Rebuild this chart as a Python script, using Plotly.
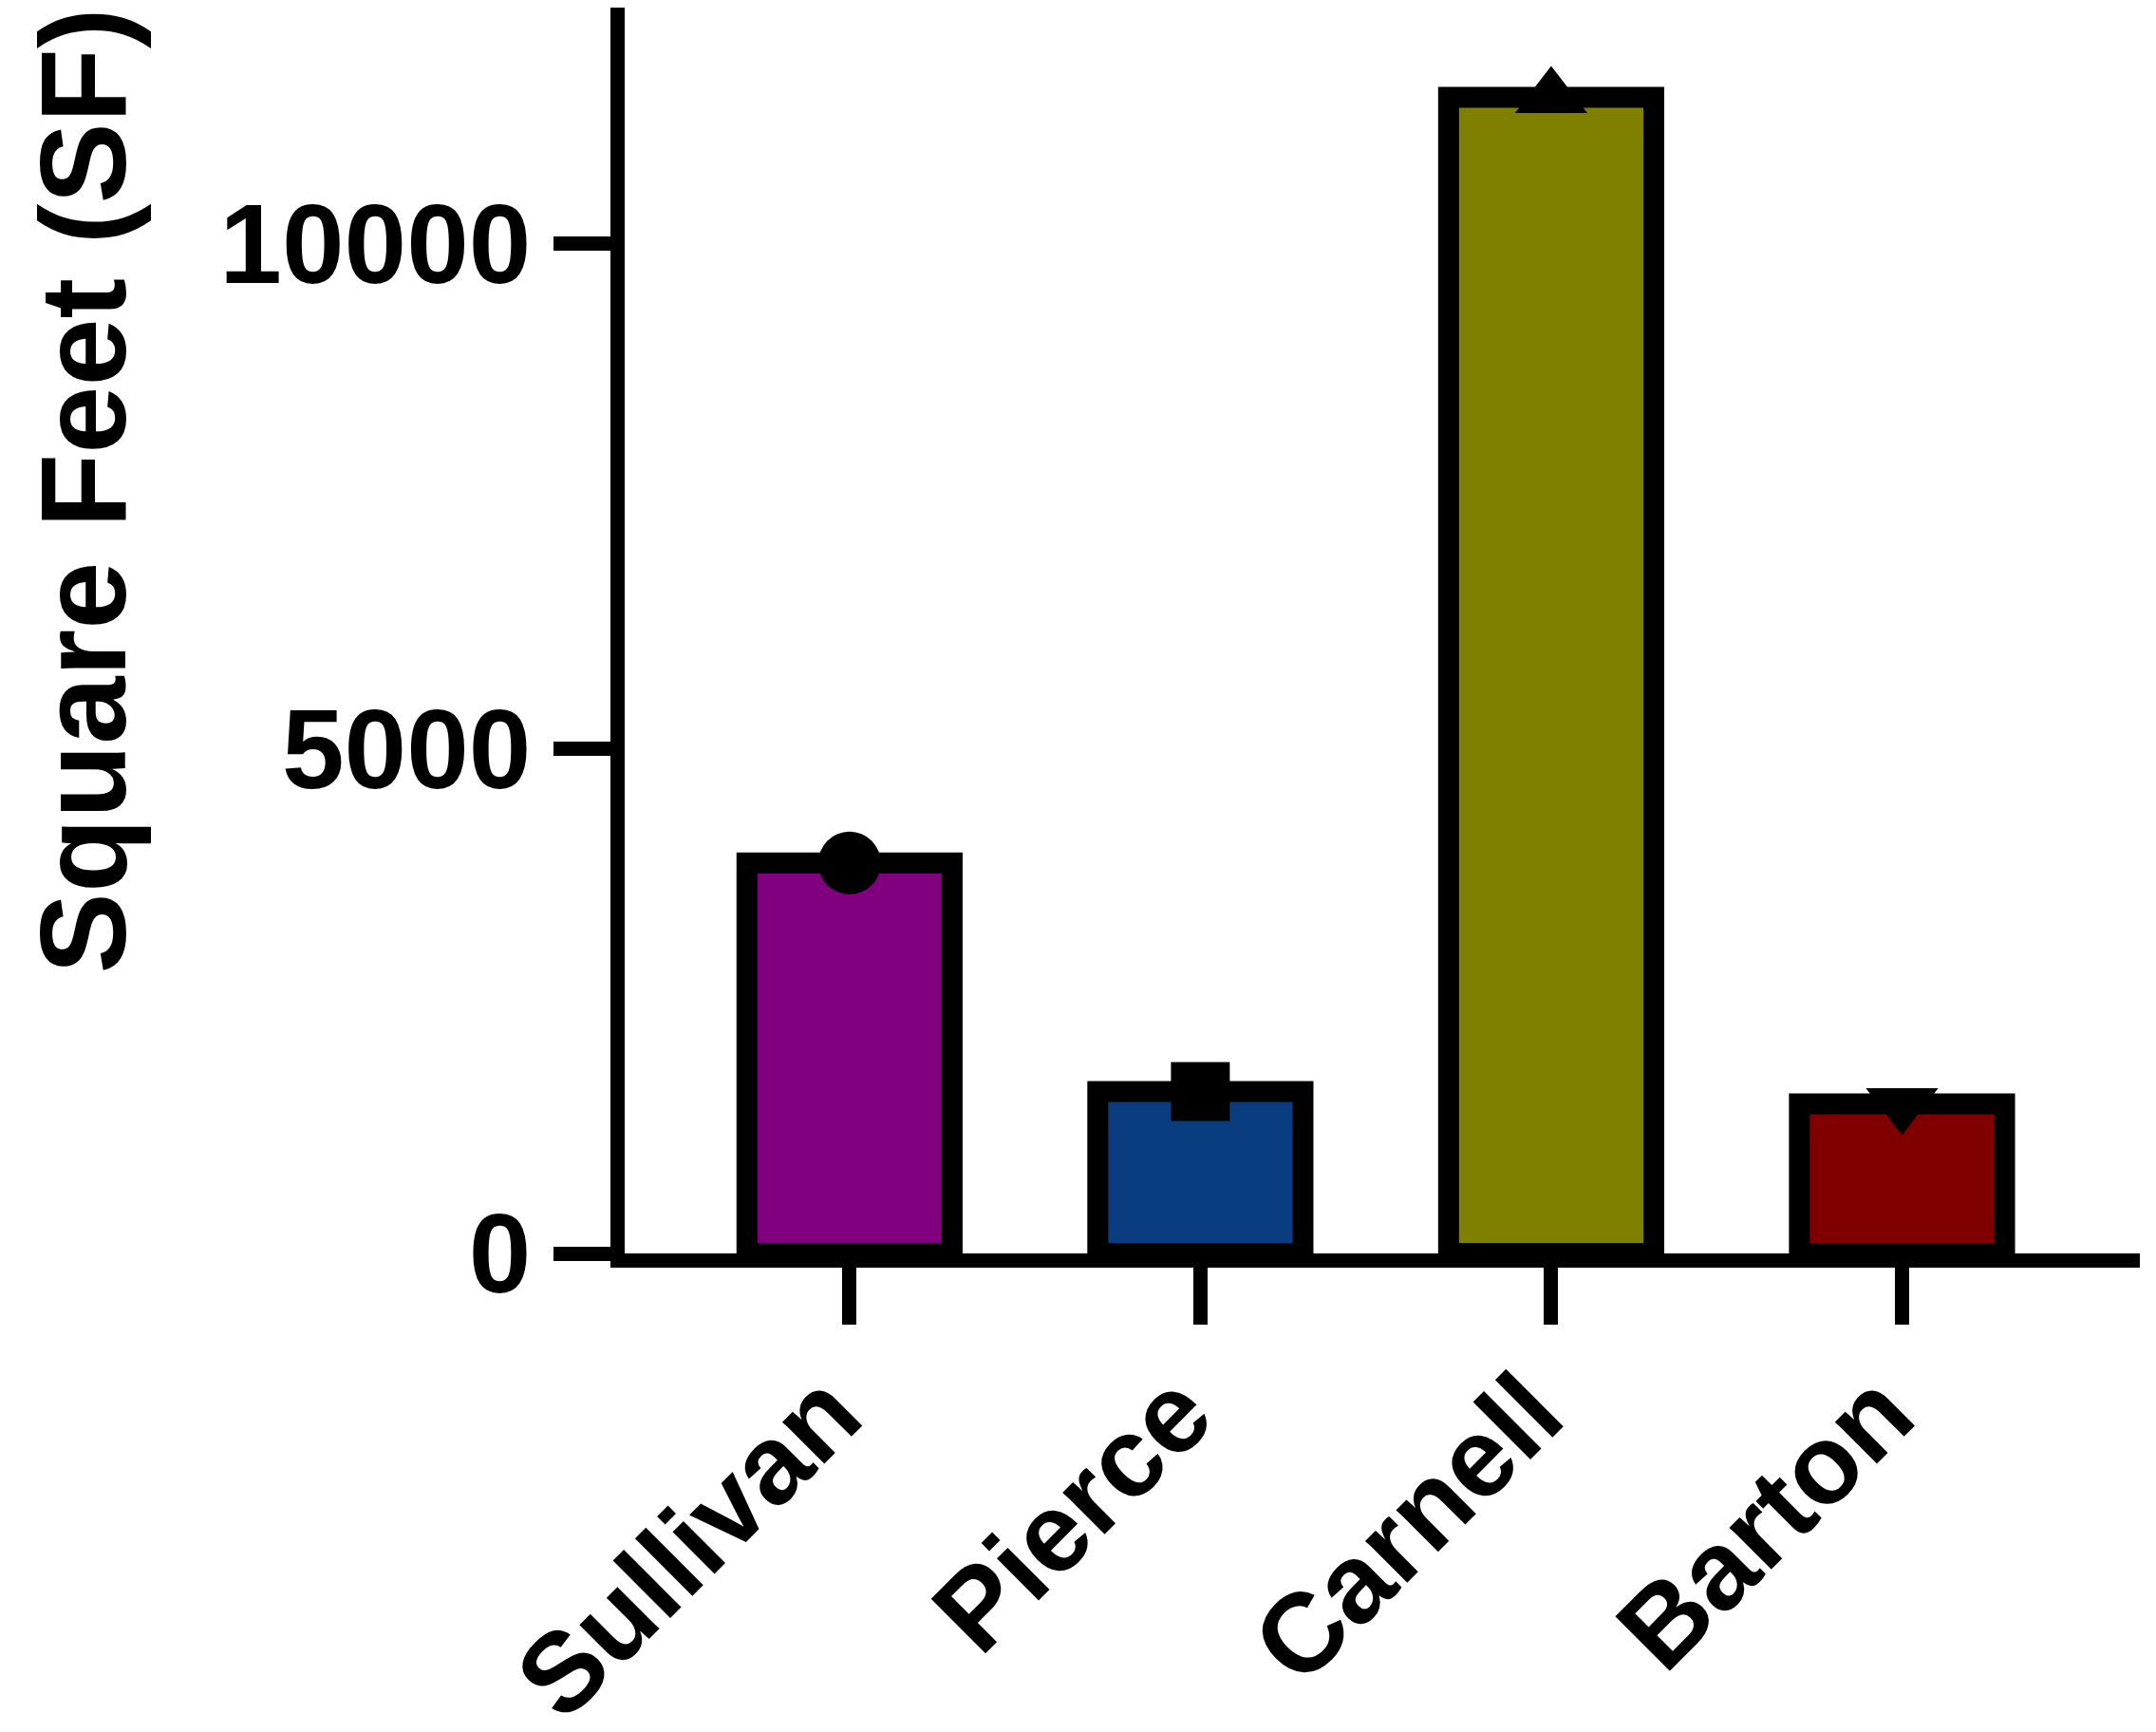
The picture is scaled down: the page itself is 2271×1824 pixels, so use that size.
import plotly.graph_objects as go

categories = ["Sullivan", "Pierce", "Carnell", "Barton"]
values = [3868, 1603, 11454, 1482]
bar_colors = ["#800080", "#0a3c80", "#808000", "#800000"]
marker_symbols = ["circle", "square", "triangle-up", "triangle-down"]
marker_sizes = [66, 62, 66, 66]
y_tickvals = [0, 5000, 10000]
y_ticktext = ["0", "5000", "10000"]

FONT = "Liberation Sans"

fig = go.Figure()
fig.add_trace(go.Bar(
    x=categories, y=values,
    marker=dict(color=bar_colors, line=dict(color="black", width=22)),
    width=0.585,
    showlegend=False,
))
for c, v, s, sz in zip(categories, values, marker_symbols, marker_sizes):
    fig.add_trace(go.Scatter(
        x=[c], y=[v], mode="markers",
        marker=dict(symbol=s, size=sz, color="black", line=dict(width=0)),
        cliponaxis=False, showlegend=False,
    ))

fig.update_layout(
    width=2271, height=1824,
    margin=dict(l=650, r=25, t=0, b=512, autoexpand=False),
    plot_bgcolor="white", paper_bgcolor="white",
    xaxis=dict(
        range=[-0.641, 3.678], automargin=False,
        showline=True, linecolor="black", linewidth=15,
        ticks="outside", ticklen=60, tickwidth=15, tickcolor="black",
        tickangle=-45, ticklabelshift=-23, ticklabelstandoff=-23,
        tickfont=dict(family=FONT, size=118, color="black", weight="bold"),
        showgrid=False, zeroline=False,
    ),
    yaxis=dict(
        range=[0, 12342], automargin=False,
        showline=True, linecolor="black", linewidth=15,
        ticks="outside", ticklen=60, tickwidth=15, tickcolor="black",
        tickvals=y_tickvals, ticktext=y_ticktext,
        tickfont=dict(family=FONT, size=118, color="black", weight="bold"),
        showgrid=False, zeroline=False,
    ),
    annotations=[
        dict(
            text="Square Feet (SF)", textangle=-90,
            xref="paper", yref="paper", x=-0.3575, y=0.612,
            xanchor="center", yanchor="middle", showarrow=False,
            font=dict(family=FONT, size=128, color="black", weight="bold"),
        ),
    ],
)

fig.write_html("out.html")
